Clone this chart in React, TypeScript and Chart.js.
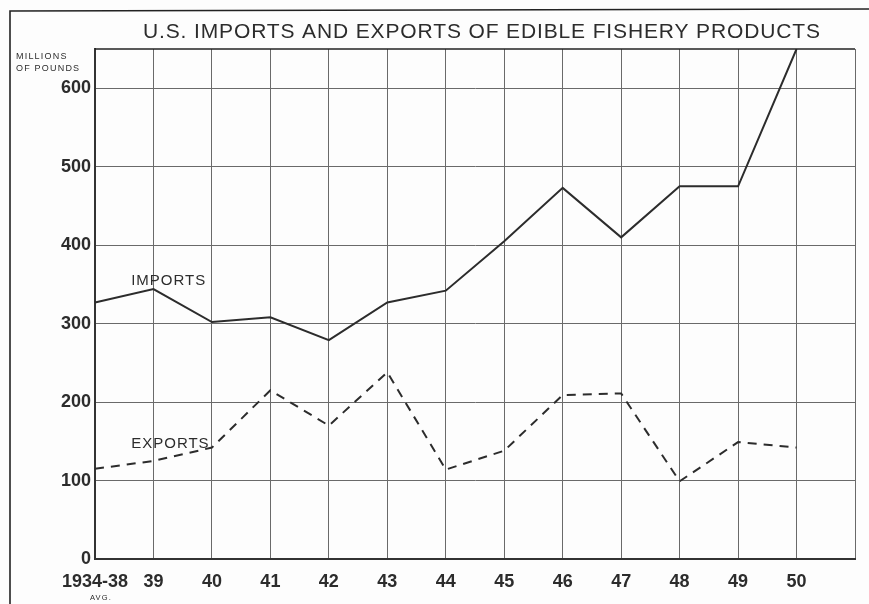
import React, { useEffect, useRef } from 'react';
import { Chart, registerables } from 'chart.js';

Chart.register(...registerables);

// ---- data (millions of pounds) ----
const years = ['1934-38', '39', '40', '41', '42', '43', '44', '45', '46', '47', '48', '49', '50'];
const categories = [...years, ''];
const importsValues = [327, 344, 302, 308, 279, 327, 342, 405, 473, 410, 475, 475, 650];
const exportsValues = [115, 125, 142, 215, 170, 238, 114, 138, 209, 211, 99, 149, 142];
const yTickValues = [0, 100, 200, 300, 400, 500, 600];
const yMax = 650;

const titleText = 'U.S. IMPORTS AND EXPORTS OF EDIBLE FISHERY PRODUCTS';
const unitLines = ['MILLIONS', 'OF POUNDS'];
const seriesNames = ['IMPORTS', 'EXPORTS'];
const firstLabelNote = 'AVG.';

const INK = '#2c2c2c';
const GRID = '#6a6a6a';

const decorPlugin = {
  id: 'decor',
  beforeDraw(chart: any) {
    const { ctx, width, height } = chart;
    ctx.save();
    ctx.fillStyle = '#fdfdfd';
    ctx.fillRect(0, 0, width, height);
    ctx.restore();
  },
  afterDraw(chart: any) {
    const { ctx, chartArea } = chart;
    const xs = chart.scales.x;
    const ys = chart.scales.y;
    ctx.save();
    // outer frame
    ctx.strokeStyle = '#222';
    ctx.lineWidth = 1.6;
    ctx.beginPath();
    ctx.moveTo(10, 604);
    ctx.lineTo(10, 11);
    ctx.lineTo(869, 9);
    ctx.stroke();
    // top of plot (title underline)
    ctx.lineWidth = 1.4;
    ctx.beginPath();
    ctx.moveTo(chartArea.left, chartArea.top);
    ctx.lineTo(chartArea.right, chartArea.top);
    ctx.stroke();

    // title
    ctx.fillStyle = INK;
    ctx.font = '21px "Liberation Sans", Arial, sans-serif';
    ctx.textBaseline = 'middle';
    ctx.textAlign = 'left';
    const targetW = 677;
    const n = titleText.length;
    const rawW = ctx.measureText(titleText).width;
    const ls = Math.max(0, (targetW - rawW) / (n - 1));
    (ctx as any).letterSpacing = ls + 'px';
    ctx.fillText(titleText, 143, 32);

    // unit label
    ctx.font = '9px "Liberation Sans", Arial, sans-serif';
    (ctx as any).letterSpacing = '1.2px';
    ctx.fillText(unitLines[0], 16, 57);
    ctx.fillText(unitLines[1], 16, 69);

    // AVG. under first category
    ctx.font = '7.5px "Liberation Sans", Arial, sans-serif';
    (ctx as any).letterSpacing = '1.2px';
    ctx.textAlign = 'center';
    ctx.fillText(firstLabelNote, xs.getPixelForValue(0) + 6, 598);

    // series labels
    ctx.font = '15px "Liberation Sans", Arial, sans-serif';
    (ctx as any).letterSpacing = '1px';
    ctx.fillText(seriesNames[0], xs.getPixelForValue(1.26), ys.getPixelForValue(355));
    ctx.fillText(seriesNames[1], xs.getPixelForValue(1.29), ys.getPixelForValue(147));
    (ctx as any).letterSpacing = '0px';
    ctx.restore();
  },
};

export default function App() {
  const ref = useRef<HTMLCanvasElement | null>(null);
  useEffect(() => {
    if (!ref.current) return;
    const tickFont = { family: '"Liberation Sans", Arial, sans-serif', weight: 'bold' as const, size: 18 };
    const chart = new Chart(ref.current, {
      type: 'line',
      data: {
        labels: categories,
        datasets: [
          {
            label: seriesNames[0],
            data: importsValues,
            borderColor: INK,
            borderWidth: 2,
            pointRadius: 0,
            tension: 0,
            fill: false,
          },
          {
            label: seriesNames[1],
            data: exportsValues,
            borderColor: INK,
            borderWidth: 2,
            borderDash: [9, 7],
            pointRadius: 0,
            tension: 0,
            fill: false,
          },
        ],
      },
      options: {
        animation: false,
        responsive: false,
        maintainAspectRatio: false,
        layout: { padding: { left: 8, right: 14, top: 49, bottom: 0 } },
        plugins: {
          legend: { display: false },
          title: { display: false },
          tooltip: { enabled: false },
        },
        scales: {
          x: {
            type: 'category',
            offset: false,
            grid: { color: GRID, lineWidth: 1, drawTicks: false },
            border: { color: '#333', width: 2 },
            ticks: {
              autoSkip: false,
              maxRotation: 0,
              minRotation: 0,
              padding: 12,
              color: INK,
              font: tickFont,
            },
            afterFit: (s: any) => {
              s.height = 45;
            },
          },
          y: {
            min: 0,
            max: yMax,
            grid: { color: GRID, lineWidth: 1, drawTicks: false },
            border: { color: '#333', width: 2 },
            afterBuildTicks: (s: any) => {
              s.ticks = yTickValues.map((v) => ({ value: v }));
            },
            ticks: {
              padding: 4,
              color: INK,
              font: tickFont,
            },
            afterFit: (s: any) => {
              s.width = 87;
            },
          },
        },
      },
      plugins: [decorPlugin],
    });
    return () => chart.destroy();
  }, []);
  return (
    <div style={{ position: 'absolute', left: 0, top: 0, width: 869, height: 604 }}>
      <canvas ref={ref} width={869} height={604} style={{ display: 'block' }} />
    </div>
  );
}
